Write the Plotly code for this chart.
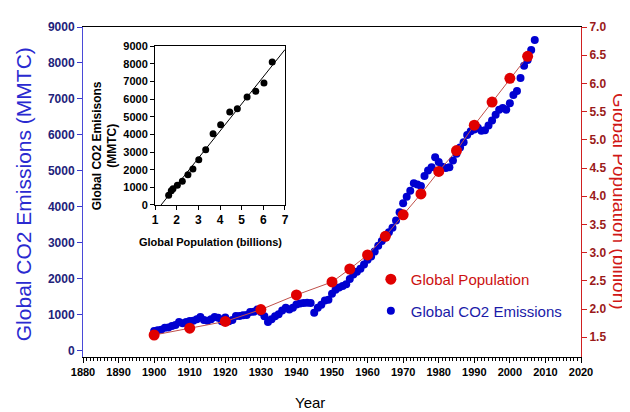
import plotly.graph_objects as go
import numpy as np

# ---------------- data ----------------
co2_years = list(range(1900, 2008))
co2_mmtc = [550, 570, 585, 640, 650, 690, 720, 800, 770, 800,
            830, 840, 880, 940, 860, 840, 880, 940, 920, 820,
            930, 820, 860, 970, 970, 990, 1000, 1080, 1090, 1150,
            1080, 960, 800, 880, 960, 1020, 1120, 1200, 1150, 1200,
            1290, 1320, 1330, 1340, 1330, 1060, 1200, 1280, 1400, 1420,
            1590, 1700, 1760, 1800, 1850, 2000, 2120, 2200, 2280, 2400,
            2530, 2620, 2760, 2920, 3050, 3150, 3300, 3420, 3620, 3850,
            4100, 4280, 4450, 4660, 4620, 4580, 4860, 5010, 5100, 5380,
            5250, 5120, 5080, 5100, 5290, 5480, 5650, 5800, 6000, 6100,
            6150, 6200, 6120, 6130, 6260, 6400, 6560, 6700, 6750, 6700,
            6880, 7110, 7220, 7580, 7920, 8080, 8360, 8640]

pop_years = [1900, 1910, 1920, 1930, 1940, 1950, 1955, 1960, 1965,
             1970, 1975, 1980, 1985, 1990, 1995, 2000, 2005]
pop_billion = [1.54, 1.66, 1.78, 1.99, 2.25, 2.48, 2.71, 2.96, 3.29,
               3.67, 4.04, 4.44, 4.81, 5.26, 5.67, 6.09, 6.48]

inset_pop = [1.63, 1.75, 1.83, 2.03, 2.26, 2.52, 2.75, 3.02, 3.34,
             3.68, 4.03, 4.45, 4.80, 5.25, 5.65, 6.03, 6.41]
inset_co2 = [549, 810, 923, 1115, 1340, 1717, 2038, 2565, 3132,
             4037, 4547, 5264, 5453, 6113, 6434, 6906, 8094]

x_ticks = [1880, 1890, 1900, 1910, 1920, 1930, 1940, 1950, 1960,
           1970, 1980, 1990, 2000, 2010, 2020]
left_ticks = [0, 1000, 2000, 3000, 4000, 5000, 6000, 7000, 8000, 9000]
right_ticks = [1.5, 2.0, 2.5, 3.0, 3.5, 4.0, 4.5, 5.0, 5.5, 6.0, 6.5, 7.0]
inset_x_ticks = [1, 2, 3, 4, 5, 6, 7]
inset_y_ticks = [0, 1000, 2000, 3000, 4000, 5000, 6000, 7000, 8000, 9000]

# linear fit for the inset
slope, intercept = np.polyfit(inset_pop, inset_co2, 1)
fit_x = [-intercept / slope, 7]
fit_y = [slope * v + intercept for v in fit_x]

NARROW = "Liberation Sans Narrow, Arial Narrow, Liberation Sans, Arial, sans-serif"
SANS = "Liberation Sans, Arial, sans-serif"

fig = go.Figure()

# blue CO2 markers (drawn first, under the red)
fig.add_trace(go.Scatter(
    x=co2_years, y=co2_mmtc, mode="markers",
    name="<span style='color:#1a1aa8'>Global CO2 Emissions</span>",
    marker=dict(color="#0000d0", size=8),
    legendgroup="b", legendrank=2, hoverinfo="x+y"))

# red population connecting line
fig.add_trace(go.Scatter(
    x=pop_years, y=pop_billion, yaxis="y2", mode="lines",
    line=dict(color="#c0504a", width=1), showlegend=False, hoverinfo="skip"))

# red population markers
fig.add_trace(go.Scatter(
    x=pop_years, y=pop_billion, yaxis="y2", mode="markers",
    name="<span style='color:#cc1010'>Global Population</span>",
    marker=dict(color="#e00000", size=11),
    legendgroup="a", legendrank=1))

# inset
fig.add_trace(go.Scatter(
    x=fit_x, y=fit_y, xaxis="x2", yaxis="y3", mode="lines",
    line=dict(color="black", width=1), showlegend=False, hoverinfo="skip"))
fig.add_trace(go.Scatter(
    x=inset_pop, y=inset_co2, xaxis="x2", yaxis="y3", mode="markers",
    marker=dict(color="black", size=7), showlegend=False))

fig.update_layout(
    width=630, height=412,
    margin=dict(l=75, r=57, t=19, b=63),
    paper_bgcolor="white", plot_bgcolor="white",
    showlegend=True,
    legend=dict(x=0.578, y=0.285, xanchor="left", yanchor="top",
                bgcolor="rgba(0,0,0,0)", font=dict(family=SANS, size=15),
                tracegroupgap=9, traceorder="grouped", itemsizing="trace"),
    xaxis=dict(
        range=[1880, 2020], tickvals=x_ticks, ticks="outside", ticklen=5,
        tickcolor="black", showline=True, linecolor="black", linewidth=1,
        mirror=True, showgrid=False, zeroline=False,
        minor=dict(dtick=1, ticks="outside", ticklen=3, tickcolor="black"),
        tickfont=dict(family=NARROW, size=11, color="black", weight="bold")),
    yaxis=dict(
        range=[-170, 9000], tickvals=left_ticks, ticks="outside", ticklen=5,
        tickcolor="#3a3acc", showline=True, linecolor="#4a4ad8", linewidth=1,
        showgrid=False, zeroline=False,
        tickfont=dict(family=NARROW, size=12, color="#22227a", weight="bold")),
    yaxis2=dict(
        overlaying="y", side="right", range=[1.15, 7.0], tickvals=right_ticks,
        tickformat=".1f", ticks="outside", ticklen=5, tickcolor="#d02020",
        showline=True, linecolor="#d02020", linewidth=1, showgrid=False,
        zeroline=False,
        tickfont=dict(family=NARROW, size=12, color="#9a1a1a", weight="bold")),
    xaxis2=dict(
        domain=[0.1446, 0.4056], anchor="y3", range=[1, 7],
        tickvals=inset_x_ticks, ticks="outside", ticklen=4, tickcolor="black",
        showline=True, linecolor="black", mirror=True, showgrid=False,
        zeroline=False, tickfont=dict(family=NARROW, size=12, color="black",
                                      weight="bold")),
    yaxis3=dict(
        domain=[0.4606, 0.9424], anchor="x2", range=[0, 9000],
        tickvals=inset_y_ticks, ticks="outside", ticklen=4, tickcolor="black",
        showline=True, linecolor="black", mirror=True, showgrid=False,
        zeroline=False, tickfont=dict(family=NARROW, size=11, color="black",
                                      weight="bold")),
    annotations=[
        dict(text="Global CO2 Emissions (MMTC)", xref="paper", yref="paper",
             x=-0.118, y=0.494, textangle=-90, showarrow=False,
             xanchor="center", yanchor="middle",
             font=dict(family=SANS, size=21, color="#2a2ad0")),
        dict(text="Global Population (billion)", xref="paper", yref="paper",
             x=1.076, y=0.47, textangle=90, showarrow=False,
             xanchor="center", yanchor="middle",
             font=dict(family=SANS, size=19, color="#d01818")),
        dict(text="Year", xref="paper", yref="paper", x=0.456, y=-0.138,
             showarrow=False, xanchor="center", yanchor="middle",
             font=dict(family=SANS, size=15, color="black")),
        dict(text="Global Population (billions)", xref="paper", yref="paper",
             x=0.257, y=0.348, showarrow=False, xanchor="center",
             yanchor="middle",
             font=dict(family=NARROW, size=11, color="black", weight="bold")),
        dict(text="Global CO2 Emisisons<br>(MMTC)", xref="paper", yref="paper",
             x=0.043, y=0.640, textangle=-90, showarrow=False,
             xanchor="center", yanchor="middle",
             font=dict(family=NARROW, size=12, color="black", weight="bold")),
    ],
)

fig.write_html("out.html")
